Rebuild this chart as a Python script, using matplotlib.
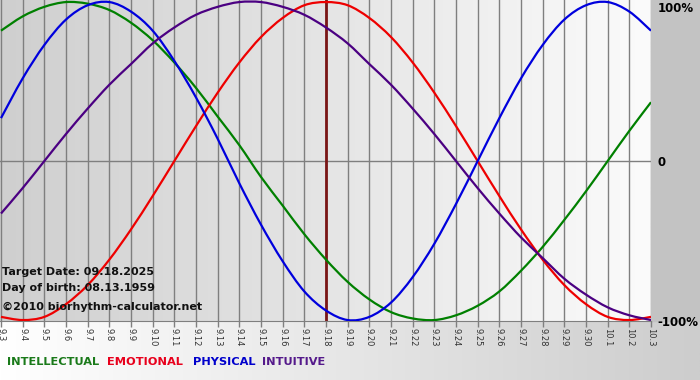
import numpy as np
import matplotlib
matplotlib.use("Agg")
import matplotlib.pyplot as plt
from matplotlib.colors import LinearSegmentedColormap
from matplotlib.patches import Rectangle, PathPatch
from matplotlib.path import Path

# days shown on the x axis (month.day)
days = ["9.3", "9.4", "9.5", "9.6", "9.7", "9.8", "9.9", "9.10", "9.11", "9.12",
        "9.13", "9.14", "9.15", "9.16", "9.17", "9.18", "9.19", "9.20", "9.21",
        "9.22", "9.23", "9.24", "9.25", "9.26", "9.27", "9.28", "9.29", "9.30",
        "10.1", "10.2", "10.3"]

# curve values per day, -1 .. 1
physical = [0.27, 0.52, 0.73, 0.89, 0.98, 1.00, 0.94, 0.82, 0.63, 0.40, 0.14,
            -0.14, -0.40, -0.63, -0.82, -0.94, -1.00, -0.98, -0.89, -0.73, -0.52,
            -0.27, 0.00, 0.27, 0.52, 0.73, 0.89, 0.98, 1.00, 0.94, 0.82]
emotional = [-0.98, -1.00, -0.98, -0.90, -0.78, -0.62, -0.43, -0.22, 0.00, 0.22,
             0.43, 0.62, 0.78, 0.90, 0.98, 1.00, 0.98, 0.90, 0.78, 0.62, 0.43,
             0.22, 0.00, -0.22, -0.43, -0.62, -0.78, -0.90, -0.98, -1.00, -0.98]
intellectual = [0.82, 0.91, 0.97, 1.00, 0.99, 0.95, 0.87, 0.76, 0.62, 0.46, 0.28,
                0.10, -0.10, -0.28, -0.46, -0.62, -0.76, -0.87, -0.95, -0.99, -1.00,
                -0.97, -0.91, -0.82, -0.69, -0.54, -0.37, -0.19, 0.00, 0.19, 0.37]
intuitive = [-0.33, -0.17, 0.00, 0.17, 0.33, 0.48, 0.61, 0.74, 0.84, 0.92, 0.97,
             1.00, 1.00, 0.97, 0.92, 0.84, 0.74, 0.61, 0.48, 0.33, 0.17, 0.00,
             -0.17, -0.33, -0.48, -0.61, -0.74, -0.84, -0.92, -0.97, -1.00]

target_day = "9.18"
info_lines = ["Target Date: 09.18.2025", "Day of birth: 08.13.1959",
              "\u00a92010 biorhythm-calculator.net"]
right_labels = ["100%", "0", "-100%"]
legend_names = ["INTELLECTUAL", "EMOTIONAL", "PHYSICAL", "INTUITIVE"]

W, H = 700, 380


def px(x, y):
    return x / W, 1 - y / H


def smooth_path(xs, ys):
    # catmull-rom style bezier through the daily points
    pts = np.column_stack([xs, ys]).astype(float)
    n = len(pts)
    verts = [pts[0]]
    codes = [Path.MOVETO]
    for i in range(n - 1):
        p0 = pts[max(i - 1, 0)]
        p1 = pts[i]
        p2 = pts[i + 1]
        p3 = pts[min(i + 2, n - 1)]
        verts += [p1 + (p2 - p0) / 6, p2 - (p3 - p1) / 6, p2]
        codes += [Path.CURVE4] * 3
    return Path(verts, codes)


fig = plt.figure(figsize=(7, 3.8), dpi=100)

# background: bottom strip and right panel
bg = fig.add_axes([0, 0, 1, 1], zorder=-10)
bg.set_axis_off()
grad = np.linspace(0, 1, 256).reshape(1, -1)
strip_cmap = LinearSegmentedColormap.from_list("strip", ["#ffffff", "#cdcdcd"])
bg.imshow(grad, cmap=strip_cmap, extent=[0, W, H, 321], aspect="auto")
bg.add_patch(Rectangle((651, 0), 49, 321, color="#c3c3c3"))
bg.set_xlim(0, W)
bg.set_ylim(H, 0)

ax = fig.add_axes([0, 59 / H, 651 / W, 321 / H])
x = np.arange(len(days))
xlo, xhi = -0.046, len(days) - 1
ylo, yhi = -1.006, 1.013
plot_cmap = LinearSegmentedColormap.from_list("plot", ["#cfcfcf", "#fbfbfb"])
ax.imshow(grad, cmap=plot_cmap, extent=[xlo, xhi, ylo, yhi], aspect="auto", zorder=0)

for xi in x:
    ax.axvline(xi, color="#7f7f7f", lw=1, zorder=1)
ax.axhline(0, color="#7f7f7f", lw=1, zorder=1)
ax.axvline(days.index(target_day), color="#7a1616", lw=2, zorder=2)

series = [(intellectual, "#008000"), (emotional, "#ee0000"),
          (physical, "#0000dd"), (intuitive, "#4b0082")]
for vals, c in series:
    ax.add_patch(PathPatch(smooth_path(x, vals), fill=False, edgecolor=c, lw=1.6, zorder=3))

ax.set_xlim(xlo, xhi)
ax.set_ylim(ylo, yhi)
ax.set_xticks(x)
ax.set_xticklabels(days, rotation=-90, fontsize=6, color="#333333")
ax.tick_params(axis="x", length=4, width=1, color="#7f7f7f", pad=1)
ax.set_yticks([])
for s in ["top", "left", "right"]:
    ax.spines[s].set_visible(False)
ax.spines["bottom"].set_color("#7f7f7f")

# right side labels
fig.text(*px(658, 8), right_labels[0], fontsize=8.5, fontweight="bold", va="center", ha="left")
fig.text(*px(658, 162), right_labels[1], fontsize=8.5, fontweight="bold", va="center", ha="left")
fig.text(*px(657, 322), right_labels[2], fontsize=8.5, fontweight="bold", va="center", ha="left")

# info block
for txt, yy in zip(info_lines, [272, 288, 307]):
    fig.text(*px(2, yy), txt, fontsize=8, fontweight="bold", va="center", ha="left", color="#111111")

# legend words
leg_colors = ["#1a7a1a", "#e8001c", "#0000cc", "#551a8b"]
leg_x = [7, 107, 193, 262]
for name, c, lx in zip(legend_names, leg_colors, leg_x):
    fig.text(*px(lx, 362), name, fontsize=8.2, fontweight="bold", va="center", ha="left", color=c)

fig.savefig("out.png", dpi=100)
